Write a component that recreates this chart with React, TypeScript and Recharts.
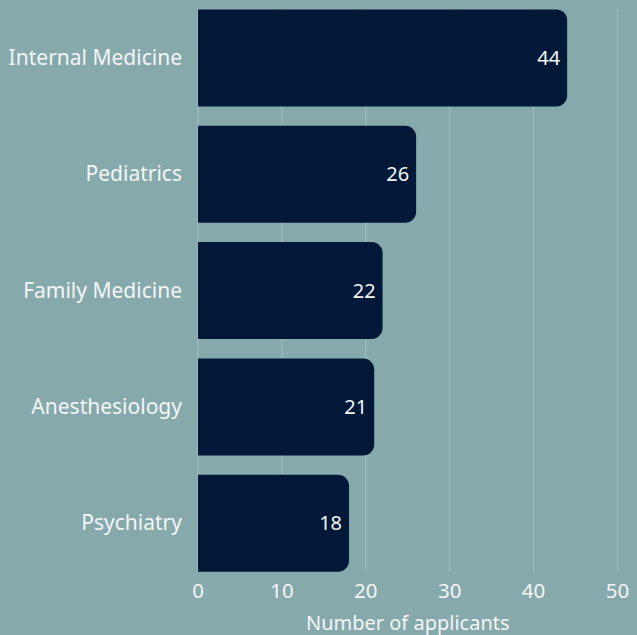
import { BarChart, Bar, XAxis, YAxis, CartesianGrid, LabelList } from 'recharts';

const specialties = ['Internal Medicine', 'Pediatrics', 'Family Medicine', 'Anesthesiology', 'Psychiatry'];
const applicants = [44, 26, 22, 21, 18];
const xTicks = [0, 10, 20, 30, 40, 50];

const data = specialties.map((name, i) => ({ name, value: applicants[i] }));

const BG = '#86a9ac';
const BAR = '#011839';
const TEXT = '#f4f6f6';
const FONT = '"Noto Sans", sans-serif';

export default function App() {
  return (
    <div style={{ position: 'absolute', left: 0, top: 0, width: 637, height: 635, background: BG }}>
      <BarChart
        width={637}
        height={635}
        data={data}
        layout="vertical"
        margin={{ top: 9, right: 19.5, left: 0, bottom: 0 }}
        style={{ fontFamily: FONT }}
      >
        <CartesianGrid horizontal={false} stroke="#a6c0c2" strokeWidth={1} />
        <XAxis
          type="number"
          domain={[0, 50]}
          ticks={xTicks}
          axisLine={false}
          tickLine={false}
          tick={{ fill: TEXT, fontSize: 20.5, fontFamily: FONT }}
          tickMargin={6}
          height={63.5}
          label={{ value: 'Number of applicants', position: 'insideBottom', offset: 5, fill: TEXT, fontSize: 20, fontFamily: FONT }}
        />
        <YAxis
          type="category"
          dataKey="name"
          width={198}
          axisLine={false}
          tickLine={false}
          tickMargin={10}
          padding={{ top: -9.6, bottom: -9.6 }}
          tick={{ fill: TEXT, fontSize: 21, fontFamily: FONT }}
        />
        <Bar dataKey="value" fill={BAR} barSize={97} radius={[0, 11, 11, 0]} isAnimationActive={false}>
          <LabelList dataKey="value" position="insideRight" offset={7} fill={TEXT} fontSize={20} fontFamily={FONT} />
        </Bar>
      </BarChart>
    </div>
  );
}
